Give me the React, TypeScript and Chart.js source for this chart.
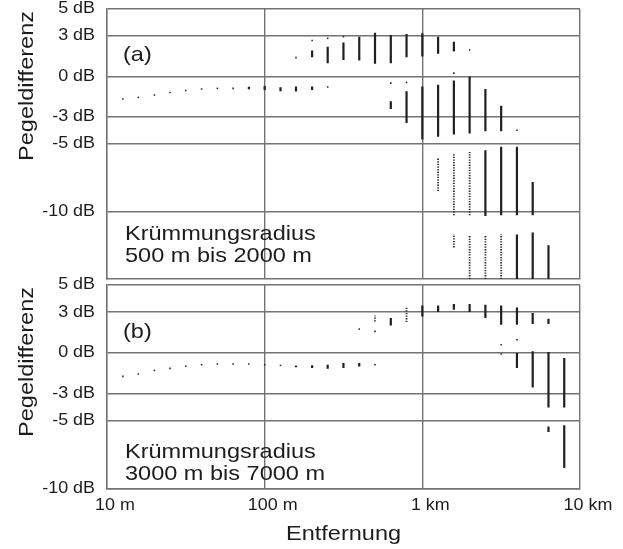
import React, { useEffect, useRef } from "react";
import { Chart, registerables } from "chart.js";

Chart.register(...registerables);

type Pt = [number, number];
type Seg = [number, number, number]; // distance (m), low (dB), high (dB)

// ---- axes ----
const xTicks = [10, 100, 1000, 10000];
const xTickLabels = ["10 m", "100 m", "1 km", "10 km"];
const yTicks = [5, 3, 0, -3, -5, -10];
const yTickLabels = ["5 dB", "3 dB", "0 dB", "-3 dB", "-5 dB", "-10 dB"];

// ---- panel (a): Krümmungsradius 500 m bis 2000 m ----
const aDots: Pt[] = [
  [12.6, -1.67], [15.8, -1.55], [20, -1.37], [25.1, -1.18], [31.6, -1.03], [39.8, -0.93],
  [50.1, -0.88], [63.1, -0.88], [158, 1.4], [200, 2.66], [251, 2.83], [316, 2.95],
  [251, -0.78], [631, -0.49], [794, -0.44], [1585, 0.25], [1995, 1.97], [3981, -3.98],
];
const aBars: Seg[] = [
  [79.4, -0.95, -0.75], [100, -1.0, -0.7], [126, -1.1, -0.8], [158, -1.11, -0.74], [200, -1.0, -0.74],
  [200, 1.43, 1.92], [251, 0.99, 2.21], [316, 1.23, 2.51], [398, 1.18, 2.95], [501, 0.94, 3.25],
  [631, 0.99, 3.08], [794, 1.43, 3.15], [1000, 1.48, 3.2], [1259, 1.68, 2.95], [1585, 1.85, 2.58],
  [631, -2.41, -1.84], [794, -3.44, -1.1], [1000, -4.67, -0.74], [1259, -4.47, -0.61],
  [1585, -4.3, -0.3], [1995, -4.23, 0], [2512, -4.06, -0.93], [3162, -4.06, -2.16],
  [2512, -10.33, -5.46], [3162, -10.28, -5.21], [3981, -10.28, -5.21], [5012, -10.28, -7.82],
  [3981, -15, -11.7], [5012, -15, -11.56], [6310, -15, -12.5],
];
const aDotted: Seg[] = [
  [1259, -8.49, -6.02], [1585, -10.28, -5.7], [1995, -10.28, -5.6],
  [1585, -12.66, -11.68], [1995, -15, -11.8], [2512, -15, -11.8], [3162, -15, -11.68],
];

// ---- panel (b): Krümmungsradius 3000 m bis 7000 m ----
const bDots: Pt[] = [
  [12.6, -1.72], [15.8, -1.54], [20, -1.28], [25.1, -1.13], [31.6, -0.98], [39.8, -0.86],
  [50.1, -0.81], [63.1, -0.81], [79.4, -0.81], [100, -0.86], [126, -0.91],
  [398, 1.76], [501, 1.59], [501, -0.86], [3162, 0.61], [3162, -0.07], [3981, 0.98],
];
const bBars: Seg[] = [
  [158, -1.05, -0.91], [200, -1.1, -0.9], [251, -1.15, -0.86], [316, -1.1, -0.74], [398, -1.0, -0.74],
  [631, 2.03, 2.57], [1000, 2.69, 3.5], [1259, 3.01, 3.5], [1585, 3.18, 3.6], [1995, 3.01, 3.6],
  [2512, 2.57, 3.55], [3162, 2.08, 3.5], [3981, 2.08, 3.35], [5012, 2.13, 2.94], [6310, 2.13, 2.52],
  [3981, -1.1, 0], [5012, -2.53, 0.12], [6310, -4.0, 0.07], [7943, -4.0, -0.37],
  [6310, -5.81, -5.4], [7943, -8.46, -5.32],
];
const bDotted: Seg[] = [
  [501, 2.32, 2.76], [794, 2.28, 3.35],
];

// ---- styling ----
const FONT = '"Liberation Sans", Arial, sans-serif';
const TEXT = "#1c1c1c";
const GRID = "#737373";
const SX = 1.12;

interface PanelCfg {
  top: number;
  height: number;
  padTop: number;
  xHeight: number;
  yMin: number;
  yMax: number;
  dots: Pt[];
  bars: Seg[];
  dotted: Seg[];
  tag: string;
  tagBase: number;
  radius: string[];
  radiusBase: number[];
  titleY: number;
  showX: boolean;
}

const panelA: PanelCfg = {
  top: 0, height: 283, padTop: 9, xHeight: 2, yMin: -15, yMax: 5,
  dots: aDots, bars: aBars, dotted: aDotted,
  tag: "(a)", tagBase: 61,
  radius: ["Krümmungsradius", "500 m bis 2000 m"], radiusBase: [240, 262],
  titleY: 86, showX: false,
};
const panelB: PanelCfg = {
  top: 270, height: 279, padTop: 15, xHeight: 60, yMin: -10, yMax: 5,
  dots: bDots, bars: bBars, dotted: bDotted,
  tag: "(b)", tagBase: 68,
  radius: ["Krümmungsradius", "3000 m bis 7000 m"], radiusBase: [188, 210],
  titleY: 92, showX: true,
};

function segData(segs: Seg[]) {
  return segs.flatMap(([d, lo, hi]) => [
    { x: d, y: lo },
    { x: d, y: hi },
    { x: d, y: null as any },
  ]);
}

function drawText(
  ctx: CanvasRenderingContext2D, text: string, x: number, y: number, size: number,
  align: CanvasTextAlign, baseline: CanvasTextBaseline, rotate = false
) {
  ctx.save();
  ctx.translate(x, y);
  if (rotate) ctx.rotate(-Math.PI / 2);
  ctx.scale(SX, 1);
  ctx.font = `${size}px ${FONT}`;
  ctx.fillStyle = TEXT;
  ctx.textAlign = align;
  ctx.textBaseline = baseline;
  ctx.fillText(text, 0, 0);
  ctx.restore();
}

function buildConfig(p: PanelCfg): any {
  const textPlugin = {
    id: "panelText",
    afterDraw(chart: any) {
      const ctx: CanvasRenderingContext2D = chart.ctx;
      const ys = chart.scales.y;
      const xs = chart.scales.x;
      const area = chart.chartArea;
      yTicks.forEach((v, i) => {
        drawText(ctx, yTickLabels[i], area.left - 12, ys.getPixelForValue(v), 16, "right", "middle");
      });
      if (p.showX) {
        xTicks.forEach((v, i) => {
          drawText(ctx, xTickLabels[i], xs.getPixelForValue(v) + 8, area.bottom + 17, 16, "center", "middle");
        });
        drawText(ctx, "Entfernung", (area.left + area.right) / 2, area.bottom + 51, 21, "center", "alphabetic");
      }
      drawText(ctx, "Pegeldifferenz", 33, p.titleY, 21, "center", "alphabetic", true);
      drawText(ctx, p.tag, area.left + 16, p.tagBase, 21, "left", "alphabetic");
      p.radius.forEach((t, i) => {
        drawText(ctx, t, area.left + 18, p.radiusBase[i], 21, "left", "alphabetic");
      });
    },
  };

  return {
    type: "scatter",
    data: {
      datasets: [
        {
          data: segData(p.bars),
          showLine: true,
          spanGaps: false,
          borderColor: "#202020",
          borderWidth: 2.2,
          borderCapStyle: "butt",
          pointRadius: 0,
        },
        {
          data: segData(p.dotted),
          showLine: true,
          spanGaps: false,
          borderColor: "#2c2c2c",
          borderWidth: 1.8,
          borderDash: [1.3, 1.3],
          borderCapStyle: "butt",
          pointRadius: 0,
        },
        {
          data: p.dots.map(([x, y]) => ({ x, y })),
          showLine: false,
          pointStyle: "rect",
          pointRadius: 1.1,
          pointBorderWidth: 0,
          pointBackgroundColor: "#2a2a2a",
        },
      ],
    },
    options: {
      animation: false,
      responsive: false,
      events: [],
      layout: { padding: { left: 0, right: 43, top: p.padTop, bottom: 0 } },
      plugins: { legend: { display: false }, tooltip: { enabled: false } },
      scales: {
        x: {
          type: "logarithmic",
          min: 10,
          max: 10000,
          afterBuildTicks: (s: any) => {
            s.ticks = xTicks.map((v) => ({ value: v }));
          },
          afterFit: (s: any) => {
            s.height = p.xHeight;
          },
          ticks: { display: false },
          grid: { color: GRID, lineWidth: 1.4, drawTicks: false },
          border: { display: true, color: GRID, width: 1.4 },
        },
        y: {
          type: "linear",
          min: p.yMin,
          max: p.yMax,
          afterBuildTicks: (s: any) => {
            s.ticks = yTicks.map((v) => ({ value: v }));
          },
          afterFit: (s: any) => {
            s.width = 107;
          },
          ticks: { display: false },
          grid: { color: GRID, lineWidth: 1.4, drawTicks: false },
          border: { display: true, color: GRID, width: 1.4 },
        },
      },
    },
    plugins: [textPlugin],
  };
}

function Panel({ cfg }: { cfg: PanelCfg }) {
  const ref = useRef<HTMLCanvasElement>(null);
  useEffect(() => {
    const chart = new Chart(ref.current as HTMLCanvasElement, buildConfig(cfg));
    return () => chart.destroy();
  }, [cfg]);
  return (
    <canvas
      ref={ref}
      width={623}
      height={cfg.height}
      style={{ position: "absolute", left: 0, top: cfg.top, width: 623, height: cfg.height }}
    />
  );
}

export default function App() {
  return (
    <div style={{ position: "absolute", left: 0, top: 0, width: 623, height: 549, background: "#fff" }}>
      <Panel cfg={panelA} />
      <Panel cfg={panelB} />
    </div>
  );
}
